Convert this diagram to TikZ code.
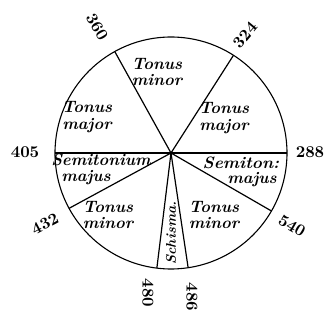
\documentclass[tikz,border=0pt]{standalone}
\usepackage{fontspec}
\setmainfont{Latin Modern Roman}
\begin{document}
\begin{tikzpicture}[x=1pt,y=1pt,
  rim/.style={line width=1.1pt},
  ray/.style={line width=1.2pt},
  lbl/.style={font=\fontsize{10}{10}\selectfont\bfseries\itshape, align=center, inner sep=0pt, scale=1.65, transform shape},
  num/.style={font=\fontsize{10}{10}\selectfont\bfseries, inner sep=0pt, scale=1.65, transform shape}]
\useasboundingbox (-171,-167) rectangle (156,153);
\coordinate (O) at (0,0);
\coordinate (p360) at (119:116);
\coordinate (p324) at (57.4:116);
\coordinate (p288) at (0:116);
\coordinate (p405) at (180:116);
\coordinate (p432) at (208.5:116);
\coordinate (p540) at (-30:116);
\coordinate (p480) at (263:116);
\coordinate (p486) at (278.5:116);
\draw[rim] (O) circle (116);
\draw[ray] (p405) -- (p288);
\draw[ray] (O) -- (p360);
\draw[ray] (O) -- (p324);
\draw[ray] (O) -- (p432);
\draw[ray] (O) -- (p540);
\draw[ray] (O) -- (p480);
\draw[ray] (O) -- (p486);
% sector labels
\node[lbl] (tmin1) at (-14,81) {Tonus\\minor};
\node[lbl] (tmaj1) at (-84,36) {Tonus\\major};
\node[lbl] (tmaj2) at (53,35) {Tonus\\major};
\node[lbl] (semi1) at (-70,-7) {Semitonium};
\node[lbl] (maj1) at (-85,-25) {majus};
\node[lbl,xscale=1.04] (semi2) at (70,-10) {Semiton:};
\node[lbl] (maj2) at (81,-27) {majus};
\node[lbl] (tmin2) at (-63,-62) {Tonus\\minor};
\node[lbl] (tmin3) at (43,-62) {Tonus\\minor};
\node[lbl,rotate=90,scale=0.85] (schis) at (0,-80) {Schisma.};
% numbers
\node[num,rotate=-60] (n360) at (-74,126) {360};
\node[num,rotate=50] (n324) at (74,118) {324};
\node[num] (n405) at (-146,1) {405};
\node[num] (n288) at (139,1) {288};
\node[num,rotate=28] (n432) at (-126,-71) {432};
\node[num,rotate=-30] (n540) at (121,-73) {540};
\node[num,rotate=-90] (n480) at (-23,-140) {480};
\node[num,rotate=-90] (n486) at (21,-144) {486};
\end{tikzpicture}
\end{document}
